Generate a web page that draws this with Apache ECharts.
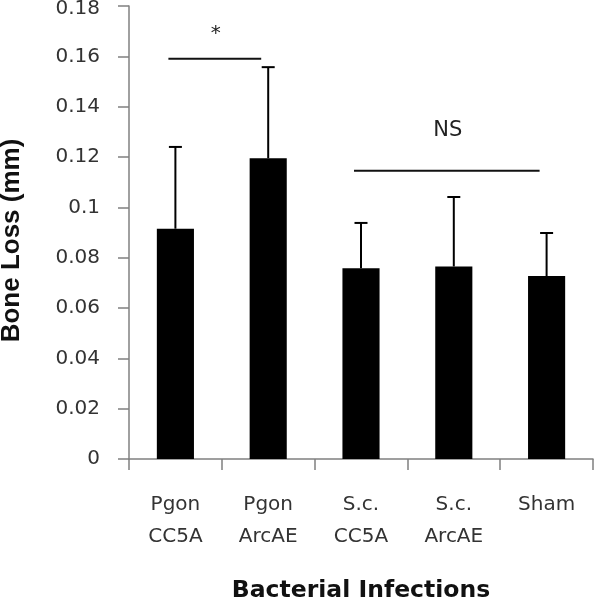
<!DOCTYPE html>
<html>
<head>
<meta charset="utf-8">
<script src="https://cdn.jsdelivr.net/npm/echarts@6/dist/echarts.min.js"></script>
<style>
html,body{margin:0;padding:0;background:#fff;}
#chart{width:595px;height:601px;}
</style>
</head>
<body>
<div id="chart"></div>
<script>
var categories = ['Pgon\nCC5A', 'Pgon\nArcAE', 'S.c.\nCC5A', 'S.c.\nArcAE', 'Sham'];
var boneLoss = [0.0915, 0.1195, 0.0758, 0.0765, 0.0727];
var errorUpper = [0.124, 0.1557, 0.0938, 0.1041, 0.0898];
var yTicks = [0, 0.02, 0.04, 0.06, 0.08, 0.1, 0.12, 0.14, 0.16, 0.18];
var sigStart = [0, 2];
var sigEnd = [1, 4];
var sigLineValue = [0.159, 0.1145];
var sigLabel = ['*', 'NS'];
var sigTextValue = [0.169, 0.1305];

var chart = echarts.init(document.getElementById('chart'), null, {renderer: 'canvas'});

var errData = boneLoss.map(function (v, i) { return [i, v, errorUpper[i]]; });
var sigData = sigStart.map(function (s, i) { return [s, sigEnd[i], sigLineValue[i], sigTextValue[i], sigLabel[i]]; });
var yMax = yTicks[yTicks.length - 1];

var option = {
  animation: false,
  backgroundColor: '#fff',
  grid: {left: 129, right: 2, top: 6, bottom: 142, containLabel: false, outerBoundsMode: 'none'},
  xAxis: {
    type: 'category',
    data: categories,
    name: 'Bacterial Infections',
    nameLocation: 'middle',
    nameGap: 120,
    nameTextStyle: {fontFamily: 'DejaVu Sans', fontWeight: 'bold', fontSize: 23.5, color: '#111'},
    axisLine: {lineStyle: {color: '#808080', width: 1.5}},
    axisTick: {show: true, length: 11, lineStyle: {color: '#808080', width: 1.5}},
    axisLabel: {fontFamily: 'DejaVu Sans', fontSize: 20, color: '#333', lineHeight: 32, margin: 30, verticalAlign: 'top'}
  },
  yAxis: {
    type: 'value',
    min: yTicks[0],
    max: yMax,
    interval: 0.02,
    name: 'Bone Loss (mm)',
    nameLocation: 'middle',
    nameGap: 104,
    nameTextStyle: {fontFamily: 'Liberation Sans', fontWeight: 'bold', fontSize: 26, color: '#111', padding: [0, 16, 0, 0]},
    axisLine: {show: true, lineStyle: {color: '#808080', width: 1.5}},
    axisTick: {show: true, length: 11, lineStyle: {color: '#808080', width: 1.5}},
    splitLine: {show: false},
    axisLabel: {
      fontFamily: 'DejaVu Sans', fontSize: 20, color: '#333', margin: 29,
      formatter: function (v) {
        var s = String(parseFloat(v.toFixed(2)));
        return Math.abs(v - yMax) < 1e-9 ? '{top|' + s + '}' : s;
      },
      rich: {top: {fontFamily: 'DejaVu Sans', fontSize: 20, color: '#333', padding: [6, 0, 0, 0]}}
    }
  },
  series: [
    {
      type: 'bar',
      data: boneLoss,
      barWidth: '40%',
      itemStyle: {color: '#000'},
      z: 2
    },
    {
      type: 'custom',
      data: errData,
      z: 3,
      renderItem: function (params, api) {
        var base = api.coord([api.value(0), api.value(1)]);
        var top = api.coord([api.value(0), api.value(2)]);
        var cap = 6.5;
        return {
          type: 'group',
          children: [
            {type: 'line', shape: {x1: base[0], y1: base[1], x2: top[0], y2: top[1]}, style: {stroke: '#000', lineWidth: 2}},
            {type: 'line', shape: {x1: top[0] - cap, y1: top[1], x2: top[0] + cap, y2: top[1]}, style: {stroke: '#000', lineWidth: 2}}
          ]
        };
      }
    },
    {
      type: 'custom',
      data: sigData,
      z: 3,
      renderItem: function (params, api) {
        var a = api.coord([api.value(0), api.value(2)]);
        var b = api.coord([api.value(1), api.value(2)]);
        var t = api.coord([api.value(0), api.value(3)]);
        var shift = -7;
        var label = sigData[params.dataIndex][4];
        return {
          type: 'group',
          children: [
            {type: 'line', shape: {x1: a[0] + shift, y1: a[1], x2: b[0] + shift, y2: b[1]}, style: {stroke: '#111', lineWidth: 2}},
            {type: 'text', style: {
              x: (a[0] + b[0]) / 2 + shift + 1, y: t[1],
              text: label, textAlign: 'center', textVerticalAlign: 'middle',
              fontFamily: 'DejaVu Sans', fontSize: label === '*' ? 20 : 21, fill: '#222'
            }}
          ]
        };
      }
    }
  ]
};
chart.setOption(option);
</script>
</body>
</html>
